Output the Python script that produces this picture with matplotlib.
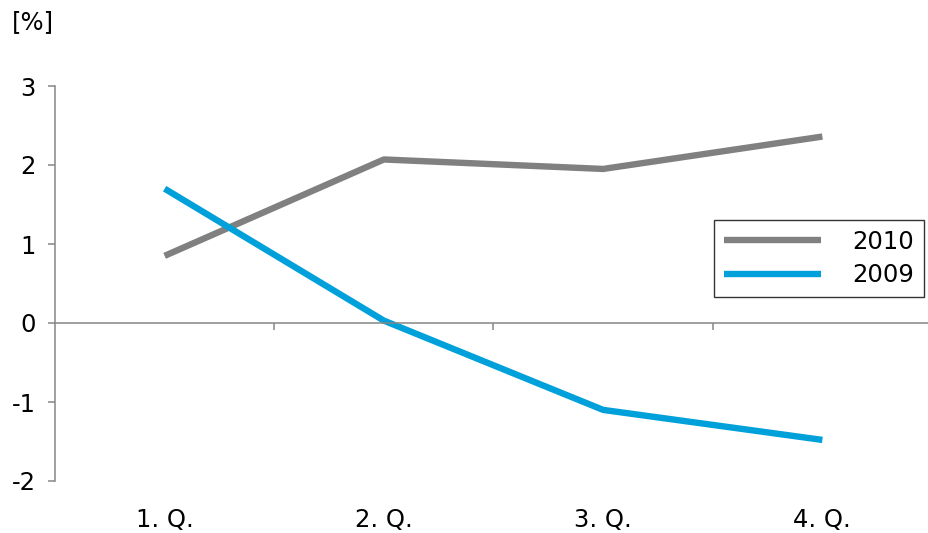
import matplotlib.pyplot as plt

# データ定義
quarters = ['1. Q.', '2. Q.', '3. Q.', '4. Q.']
y2010 = [0.85, 2.07, 1.95, 2.36]
y2009 = [1.70, 0.03, -1.10, -1.48]
yticks = [-2, -1, 0, 1, 2, 3]

plt.rcParams['font.family'] = ['DejaVu Sans']

W, H = 929, 533
fig = plt.figure(figsize=(W / 100, H / 100), dpi=100)
ax = fig.add_axes([55 / W, 52 / H, 877 / W, 395 / H])

x = list(range(len(quarters)))
ax.plot(x, y2010, color='#808080', linewidth=4.6, solid_capstyle='butt', label='2010')
ax.plot(x, y2009, color='#00A0DA', linewidth=4.6, solid_capstyle='butt', label='2009')

ax.set_xlim(-0.5, len(quarters) - 0.5)
ax.set_ylim(-2, 3)

# 軸
axis_col = '#868686'
for s in ['top', 'right']:
    ax.spines[s].set_visible(False)
ax.spines['left'].set_color(axis_col)
ax.spines['bottom'].set_color(axis_col)
ax.spines['left'].set_linewidth(1.1)
ax.spines['bottom'].set_linewidth(1.1)
ax.spines['bottom'].set_position(('data', 0))

ax.set_yticks(yticks)
ax.set_yticklabels([str(v) for v in yticks])
ax.tick_params(axis='y', length=5, width=1.1, color=axis_col, pad=9, labelsize=17.5)

ax.set_xticks([i + 0.5 for i in x[:-1]])
ax.set_xticklabels([])
ax.tick_params(axis='x', length=5, width=1.1, color=axis_col)

for i, q in enumerate(quarters):
    ax.text(i, -0.099, q, transform=ax.get_xaxis_transform(), ha='center', va='center',
            fontsize=17.5)

fig.text(12 / W, 1 - 22 / H, '[%]', ha='left', va='center', fontsize=17.5)

leg = ax.legend(loc='upper left', bbox_to_anchor=(714 / W, 1 - 220 / H),
                bbox_transform=fig.transFigure, fontsize=17.5, frameon=True, fancybox=False,
                handlelength=4.0, handletextpad=1.3, labelspacing=0.4, borderpad=0.4,
                borderaxespad=0)
leg.get_frame().set_edgecolor('black')
leg.get_frame().set_linewidth(1.0)

fig.savefig('out.png', dpi=100)
